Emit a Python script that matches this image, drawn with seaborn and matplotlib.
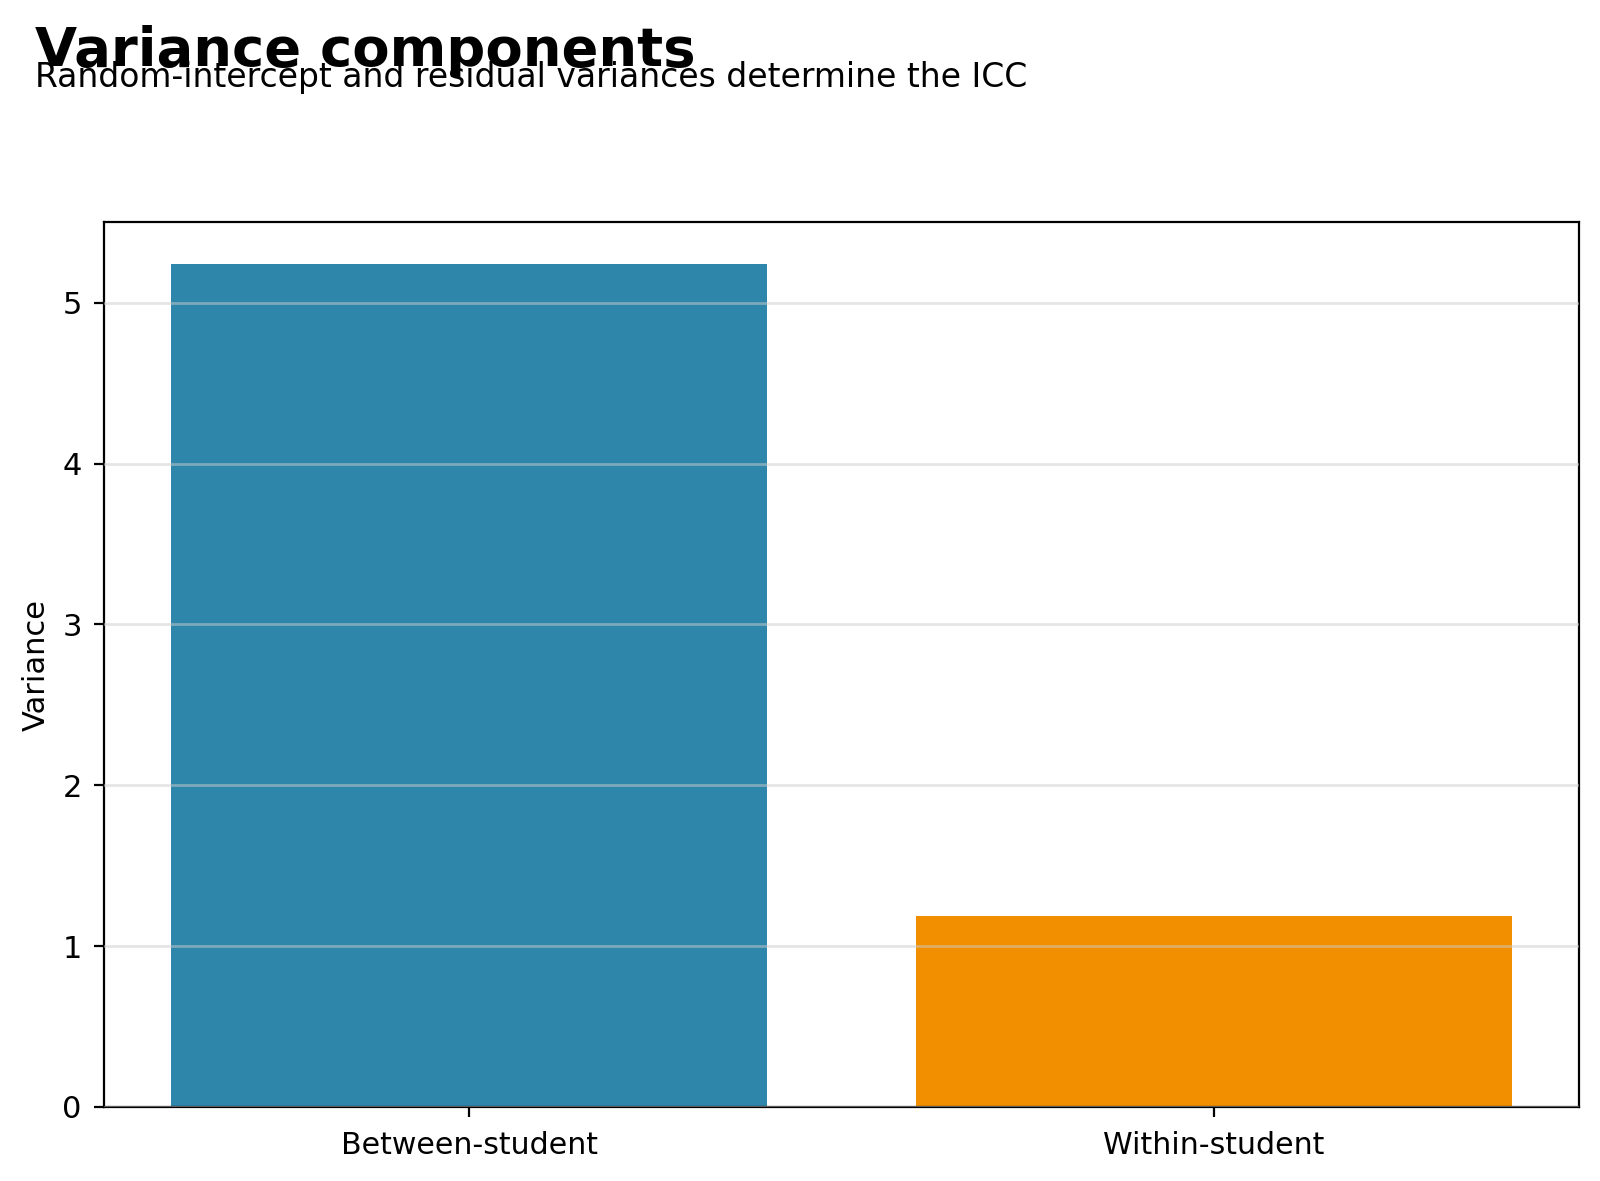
import matplotlib
matplotlib.use("Agg")
import matplotlib.pyplot as plt
import seaborn as sns
import pandas as pd

components = ["Between-student", "Within-student"]
variances = [5.24, 1.19]
colors = ["#2E86AB", "#F18F01"]

df = pd.DataFrame({"component": components, "variance": variances})

fig = plt.figure(figsize=(8, 5.905), dpi=200)
ax = fig.add_axes([0.065, 0.0627, 0.922, 0.749])

sns.barplot(data=df, x="component", y="variance", hue="component",
            palette=colors, legend=False, width=0.8, saturation=1, ax=ax)

# same as plain matplotlib bars with default 5% margins
ax.set_xlim(-0.49, 1.49)
ax.set_ylim(0, 5.5)
ax.set_xlabel("")
ax.set_ylabel("Variance", fontsize=11)
ax.tick_params(axis="x", labelsize=10.8, pad=5.2)
ax.tick_params(axis="y", labelsize=11, pad=4.5)
ax.set_axisbelow(False)
ax.yaxis.grid(True, color="#cccccc", alpha=0.5, linewidth=1)
ax.xaxis.grid(False)

fig.text(0.022, 0.944, "Variance components", fontsize=19.6, fontweight="bold",
         va="baseline", ha="left")
fig.text(0.022, 0.926, "Random-intercept and residual variances determine the ICC",
         fontsize=11.9, va="baseline", ha="left")

fig.savefig("out.png", dpi=200)
plt.close(fig)
